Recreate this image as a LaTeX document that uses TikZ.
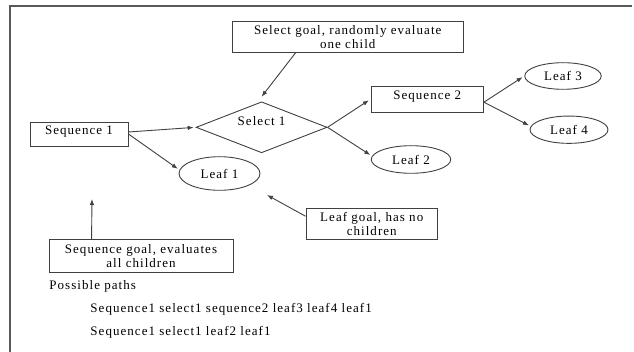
\documentclass[tikz,border=0pt]{standalone}
\usepackage{fontspec}
\setmainfont{Liberation Serif}[LetterSpace=8]
\usetikzlibrary{shapes.geometric,arrows.meta}

\begin{document}
\begin{tikzpicture}[
            x = 1pt, y = -1pt, % pixel grid, y going down
            > = {Latex[length=6pt,width=4.5pt]}, % arrow head style
            shorten > = 2pt, % don't touch arrow head to node
            line width = 0.9pt, % line style
            color = black!75,
            every node/.style = {font=\fontsize{13pt}{14pt}\selectfont, text=black},
            seqbox/.style = {shape=rectangle, draw, inner sep=0pt, text depth=8pt},
            notebox/.style = {shape=rectangle, draw, inner sep=0pt, align=center},
            leaf/.style = {shape=ellipse, draw, inner sep=0pt},
            choice/.style = {shape=diamond, draw, inner sep=0pt, shape aspect=2.6, text depth=12pt},
            pathtext/.style = {anchor=west, inner sep=0pt}
        ]
\useasboundingbox (0,0) rectangle (634,352);
\draw[black!65, line width=1.2pt] (10,352) -- (10,6) -- (634,6);

\node[notebox, minimum width=230.5pt, minimum height=31.3pt] (selgoal) at (347.75,36.7) {Select goal, randomly evaluate\\one child};
\node[seqbox, minimum width=98pt, minimum height=24pt] (seq1) at (79,134) {Sequence 1};
\node[choice, minimum width=131pt, minimum height=51pt] (sel1) at (261.6,127.3) {Select 1};
\node[seqbox, minimum width=112.5pt, minimum height=26.3pt] (seq2) at (427.25,99.2) {Sequence 2};
\node[leaf, minimum width=81pt, minimum height=33.6pt] (leaf1) at (219.5,173.5) {Leaf 1};
\node[leaf, minimum width=79.5pt, minimum height=27.6pt] (leaf2) at (411,159.5) {Leaf 2};
\node[leaf, minimum width=76.5pt, minimum height=26.6pt] (leaf3) at (563,76) {Leaf 3};
\node[leaf, minimum width=78pt, minimum height=27.3pt] (leaf4) at (569,129.7) {Leaf 4};
\node[notebox, minimum width=131.5pt, minimum height=30.6pt] (leafgoal) at (371.75,224) {Leaf goal, has no\\children};
\node[notebox, minimum width=184pt, minimum height=32.7pt] (seqgoal) at (141,255.7) {Sequence goal, evaluates\\all children};
\node[pathtext] (paths) at (49,286) {Possible paths};
\node[pathtext] (path1) at (90,309.7) {Sequence1 select1 sequence2 leaf3 leaf4 leaf1};
\node[pathtext] (path2) at (90,332.7) {Sequence1 select1 leaf2 leaf1};

\coordinate (seltip) at (261.6,96.7);
\coordinate (leaftip) at (267,195);
\coordinate (seqtip) at (92,199);

 \path [->] ([yshift=2pt]seq1.east) edge (sel1.west);
 \path [->] (seq1.east) edge (leaf1.175);
  \path [->] (sel1.east) edge (seq2.west);
  \path [->] (sel1.east) edge (leaf2.175);
    \path [->] ([yshift=-3pt]seq2.east) edge (leaf3.west);
    \path [->] ([yshift=-3pt]seq2.east) edge (leaf4.175);
   \path [->, shorten > = 0pt] ([xshift=63.5pt]selgoal.south west) edge (seltip);
   \path [->, shorten > = 0pt] ([yshift=-8pt]leafgoal.north west) edge (leaftip);
   \path [->, shorten > = 0pt] ([xshift=43pt]seqgoal.north west) edge (seqtip);
\end{tikzpicture}
\end{document}
